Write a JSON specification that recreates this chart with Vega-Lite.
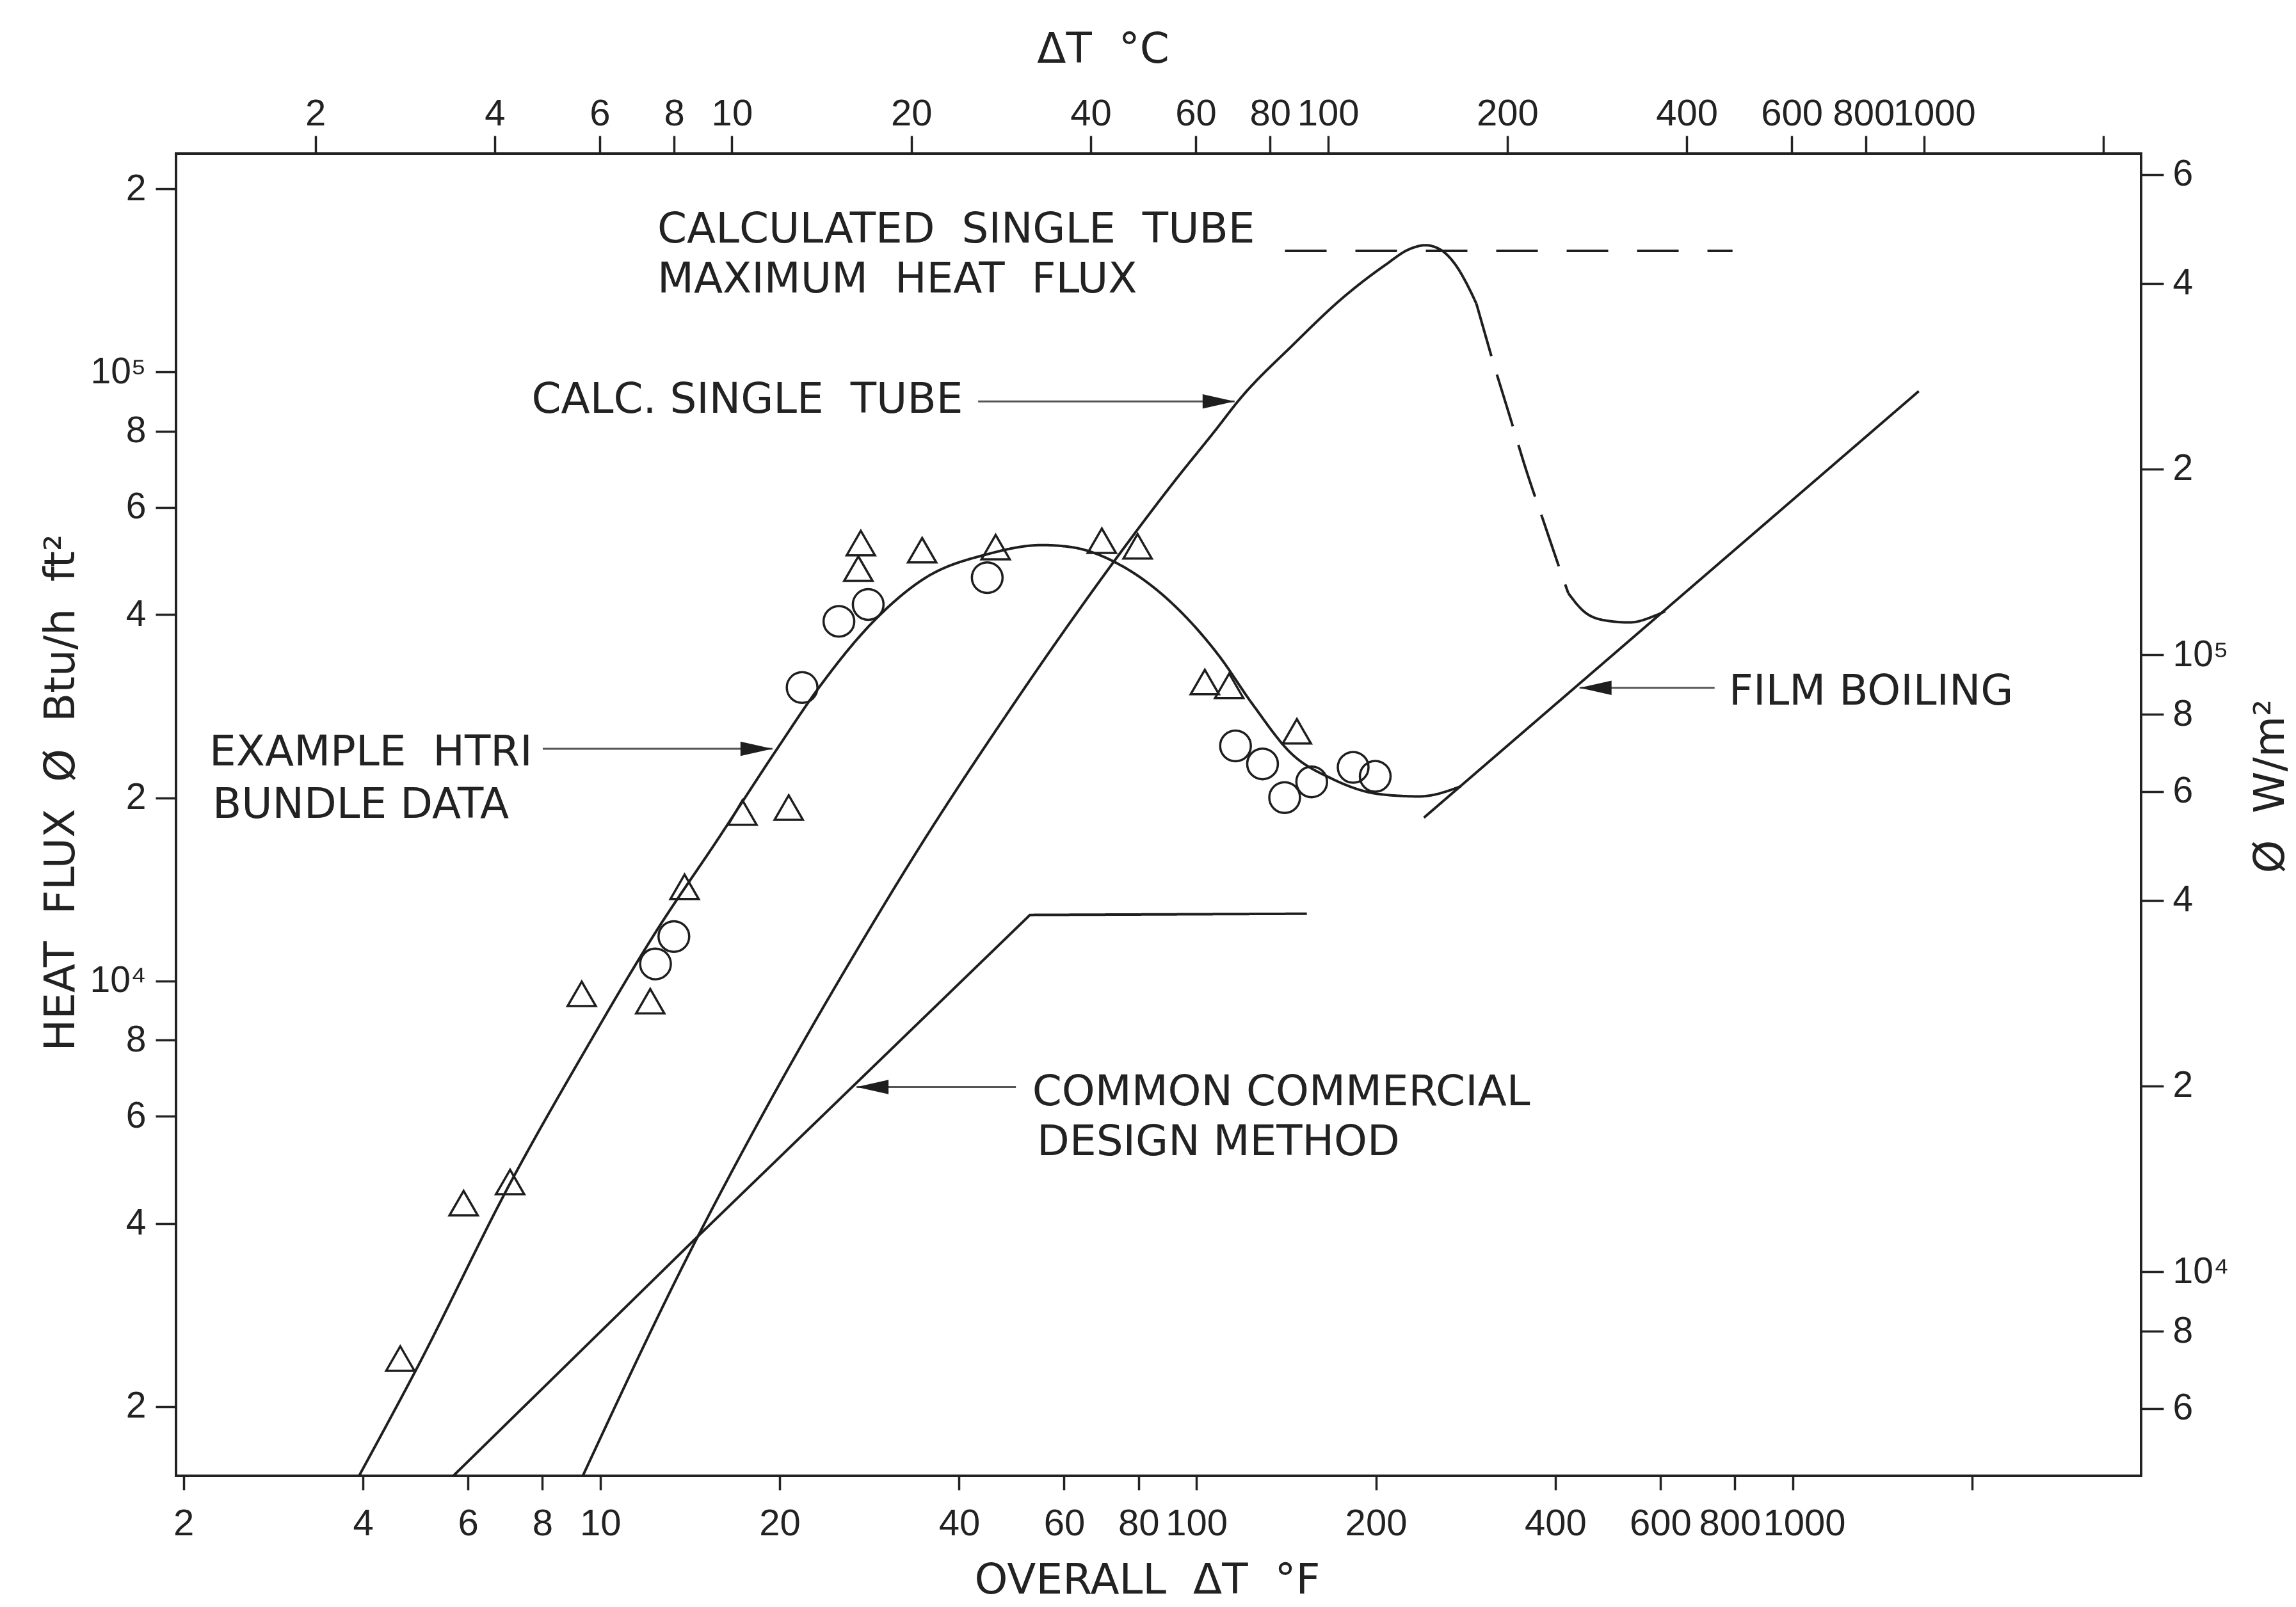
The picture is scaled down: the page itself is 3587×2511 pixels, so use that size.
{
  "$schema": "https://vega.github.io/schema/vega-lite/v6.json",
  "width": 3070,
  "height": 2066,
  "autosize": {"type": "none"},
  "padding": {"left": 275, "top": 240, "right": 242, "bottom": 205},
  "background": "white",
  "config": {
    "view": {"stroke": "#222", "strokeWidth": 4},
    "axis": {
      "domain": false, "grid": false, "tickColor": "#222", "tickWidth": 3.5,
      "labelColor": "#222", "titleColor": "#222", "labelOverlap": false, "labelFlush": false, "labelBound": false,
      "titleFont": "DejaVu Sans", "titleFontSize": 66, "titleFontWeight": "normal",
      "titleAlign": "center", "titleBaseline": "middle"
    }
  },
  "datasets": {
    "curves": [
      {"s": "htri", "style": "solid", "i": 0, "dT": 3.94, "q": 1540},
      {"s": "htri", "style": "solid", "i": 1, "dT": 4.92, "q": 2308},
      {"s": "htri", "style": "solid", "i": 2, "dT": 7.08, "q": 4677},
      {"s": "htri", "style": "solid", "i": 3, "dT": 9.385, "q": 7627},
      {"s": "htri", "style": "solid", "i": 4, "dT": 12.44, "q": 12110},
      {"s": "htri", "style": "solid", "i": 5, "dT": 15.69, "q": 17000},
      {"s": "htri", "style": "solid", "i": 6, "dT": 19.84, "q": 24130},
      {"s": "htri", "style": "solid", "i": 7, "dT": 23.08, "q": 30000},
      {"s": "htri", "style": "solid", "i": 8, "dT": 28.97, "q": 39290},
      {"s": "htri", "style": "solid", "i": 9, "dT": 34.96, "q": 45820},
      {"s": "htri", "style": "solid", "i": 10, "dT": 44.77, "q": 50280},
      {"s": "htri", "style": "solid", "i": 11, "dT": 55.1, "q": 52000},
      {"s": "htri", "style": "solid", "i": 12, "dT": 61.74, "q": 51590},
      {"s": "htri", "style": "solid", "i": 13, "dT": 74.59, "q": 48200},
      {"s": "htri", "style": "solid", "i": 14, "dT": 90.12, "q": 42100},
      {"s": "htri", "style": "solid", "i": 15, "dT": 108.9, "q": 34300},
      {"s": "htri", "style": "solid", "i": 16, "dT": 124.3, "q": 28460},
      {"s": "htri", "style": "solid", "i": 17, "dT": 144.5, "q": 23610},
      {"s": "htri", "style": "solid", "i": 18, "dT": 168.5, "q": 21510},
      {"s": "htri", "style": "solid", "i": 19, "dT": 203.3, "q": 20270},
      {"s": "htri", "style": "solid", "i": 20, "dT": 236.4, "q": 20100},
      {"s": "htri", "style": "solid", "i": 21, "dT": 277.9, "q": 20890},
      {"s": "tube1", "style": "solid", "i": 0, "dT": 9.35, "q": 1540},
      {"s": "tube1", "style": "solid", "i": 1, "dT": 13.96, "q": 3502},
      {"s": "tube1", "style": "solid", "i": 2, "dT": 19.12, "q": 6265},
      {"s": "tube1", "style": "solid", "i": 3, "dT": 27.51, "q": 11630},
      {"s": "tube1", "style": "solid", "i": 4, "dT": 34.96, "q": 17070},
      {"s": "tube1", "style": "solid", "i": 5, "dT": 40.15, "q": 21060},
      {"s": "tube1", "style": "solid", "i": 6, "dT": 46.46, "q": 26100},
      {"s": "tube1", "style": "solid", "i": 7, "dT": 58.32, "q": 36130},
      {"s": "tube1", "style": "solid", "i": 8, "dT": 71.78, "q": 48020},
      {"s": "tube1", "style": "solid", "i": 9, "dT": 91.86, "q": 66180},
      {"s": "tube1", "style": "solid", "i": 10, "dT": 107.9, "q": 80540},
      {"s": "tube1", "style": "solid", "i": 11, "dT": 117.9, "q": 90000},
      {"s": "tube1", "style": "solid", "i": 12, "dT": 145.1, "q": 110800},
      {"s": "tube1", "style": "solid", "i": 13, "dT": 176.7, "q": 132900},
      {"s": "tube1", "style": "solid", "i": 14, "dT": 206.9, "q": 149700},
      {"s": "tube1", "style": "solid", "i": 15, "dT": 228.3, "q": 159400},
      {"s": "tube1", "style": "solid", "i": 16, "dT": 242.2, "q": 161600},
      {"s": "tube1", "style": "solid", "i": 17, "dT": 256.9, "q": 158800},
      {"s": "tube1", "style": "solid", "i": 18, "dT": 272.5, "q": 149700},
      {"s": "tube1", "style": "solid", "i": 19, "dT": 286.4, "q": 137500},
      {"s": "tube1", "style": "solid", "i": 20, "dT": 294.9, "q": 129500},
      {"s": "tube2", "style": "dashed", "i": 0, "dT": 294.9, "q": 129500},
      {"s": "tube2", "style": "dashed", "i": 1, "dT": 312.9, "q": 105700},
      {"s": "tube2", "style": "dashed", "i": 2, "dT": 335.3, "q": 84750},
      {"s": "tube2", "style": "dashed", "i": 3, "dT": 359.2, "q": 67980},
      {"s": "tube2", "style": "dashed", "i": 4, "dT": 381.1, "q": 57360},
      {"s": "tube2", "style": "dashed", "i": 5, "dT": 404.2, "q": 48390},
      {"s": "tube2", "style": "dashed", "i": 6, "dT": 420.5, "q": 43350},
      {"s": "tube3", "style": "solid", "i": 0, "dT": 420.5, "q": 43350},
      {"s": "tube3", "style": "solid", "i": 1, "dT": 446.1, "q": 40500},
      {"s": "tube3", "style": "solid", "i": 2, "dT": 482.7, "q": 39140},
      {"s": "tube3", "style": "solid", "i": 3, "dT": 532.6, "q": 38810},
      {"s": "tube3", "style": "solid", "i": 4, "dT": 587.9, "q": 39820},
      {"s": "tube3", "style": "solid", "i": 5, "dT": 611.5, "q": 40500},
      {"s": "commercial", "style": "solid", "i": 0, "dT": 5.67, "q": 1540},
      {"s": "commercial", "style": "solid", "i": 1, "dT": 14.43, "q": 3771},
      {"s": "commercial", "style": "solid", "i": 2, "dT": 52.58, "q": 12840},
      {"s": "commercial", "style": "solid", "i": 3, "dT": 153.2, "q": 12900},
      {"s": "film", "style": "solid", "i": 0, "dT": 240.8, "q": 18550},
      {"s": "film", "style": "solid", "i": 1, "dT": 1628, "q": 93050},
      {"s": "maxflux", "style": "longdash", "i": 0, "dT": 140.8, "q": 158200},
      {"s": "maxflux", "style": "longdash", "i": 1, "dT": 793, "q": 158200}
    ],
    "points": [
      {"kind": "triangle", "dT": 4.62, "q": 2399},
      {"kind": "triangle", "dT": 5.9, "q": 4318},
      {"kind": "triangle", "dT": 7.06, "q": 4677},
      {"kind": "triangle", "dT": 9.31, "q": 9528},
      {"kind": "triangle", "dT": 12.13, "q": 9267},
      {"kind": "triangle", "dT": 13.85, "q": 14283},
      {"kind": "triangle", "dT": 17.32, "q": 18918},
      {"kind": "triangle", "dT": 20.71, "q": 19275},
      {"kind": "triangle", "dT": 27.36, "q": 52400},
      {"kind": "triangle", "dT": 27.1, "q": 47570},
      {"kind": "triangle", "dT": 34.67, "q": 51000},
      {"kind": "triangle", "dT": 46.05, "q": 51600},
      {"kind": "triangle", "dT": 69.4, "q": 52850},
      {"kind": "triangle", "dT": 79.68, "q": 51770},
      {"kind": "triangle", "dT": 103.3, "q": 30980},
      {"kind": "triangle", "dT": 113.5, "q": 30540},
      {"kind": "triangle", "dT": 147.4, "q": 25710},
      {"kind": "circle", "dT": 12.38, "q": 10670},
      {"kind": "circle", "dT": 13.29, "q": 11834},
      {"kind": "circle", "dT": 21.81, "q": 30340},
      {"kind": "circle", "dT": 25.14, "q": 38970},
      {"kind": "circle", "dT": 28.15, "q": 41530},
      {"kind": "circle", "dT": 44.58, "q": 45970},
      {"kind": "circle", "dT": 116.3, "q": 24330},
      {"kind": "circle", "dT": 129.1, "q": 22730},
      {"kind": "circle", "dT": 140.6, "q": 20010},
      {"kind": "circle", "dT": 156.1, "q": 21240},
      {"kind": "circle", "dT": 183.2, "q": 22440},
      {"kind": "circle", "dT": 199.5, "q": 21690}
    ],
    "labels": [
      {"label": "CALCULATED\u00a0 SINGLE\u00a0 TUBE", "dT": 12.47, "q": 171400},
      {"label": "MAXIMUM\u00a0 HEAT\u00a0 FLUX", "dT": 12.47, "q": 141800},
      {"label": "CALC. SINGLE\u00a0 TUBE", "dT": 7.67, "q": 90110},
      {"label": "EXAMPLE\u00a0 HTRI", "dT": 2.21, "q": 23730},
      {"label": "BUNDLE DATA", "dT": 2.237, "q": 19450},
      {"label": "COMMON COMMERCIAL", "dT": 53.05, "q": 6570},
      {"label": "DESIGN METHOD", "dT": 54.03, "q": 5438},
      {"label": "FILM BOILING", "dT": 782, "q": 29850}
    ],
    "arrows": [
      {"dT": 43.04, "dT2": 115.9, "q": 89500, "dir": "right"},
      {"dT": 8.01, "dT2": 19.45, "q": 24070, "dir": "right"},
      {"dT": 49.8, "dT2": 26.91, "q": 6700, "dir": "left"},
      {"dT": 740, "dT2": 439.2, "q": 30300, "dir": "left"}
    ],
    "scale2": [
      {"dTC": 1.168, "qW": 4668},
      {"dTC": 2314, "qW": 649000}
    ]
  },
  "layer": [
    {
      "encoding": {
        "x": {
          "field": "dT", "type": "quantitative",
          "scale": {"type": "log", "domain": [1.943, 3842], "nice": false, "zero": false},
          "axis": {
            "orient": "bottom", "title": "OVERALL\u00a0 ΔT\u00a0 °F",
            "values": [2, 4, 6, 8, 10, 20, 40, 60, 80, 100, 200, 400, 600, 800, 1000, 2000],
            "labelExpr": "datum.value >= 2000 ? '' : format(datum.value, 'd')",
            "labelOffset": {"condition": [{"test": "datum.value == 800", "value": -8}, {"test": "datum.value == 1000", "value": 18}], "value": 0},
            "tickSize": 22, "labelPadding": 24,
            "labelFont": "Liberation Sans, sans-serif", "labelFontSize": 58,
            "titleX": 1517, "titleY": 163, "titleAngle": 0
          }
        },
        "y": {
          "field": "q", "type": "quantitative",
          "scale": {"type": "log", "domain": [1540, 228500], "nice": false, "zero": false},
          "axis": {
            "orient": "left", "title": "HEAT\u00a0 FLUX\u00a0 Ø\u00a0 Btu/h\u00a0 ft²",
            "values": [2000, 4000, 6000, 8000, 10000, 20000, 40000, 60000, 80000, 100000, 200000],
            "labelExpr": "datum.value == 10000 ? '10⁴' : datum.value == 100000 ? '10⁵' : format(datum.value / pow(10, floor(log(datum.value) / LN10 + 1e-9)), '.0f')",
            "tickSize": 32, "labelPadding": 15,
            "labelFont": "Liberation Sans, DejaVu Sans, sans-serif", "labelFontSize": 57,
            "titleX": -180, "titleY": 998, "titleAngle": 270
          }
        }
      },
      "layer": [
        {
          "data": {"name": "curves"},
          "transform": [{"filter": {"field": "s", "oneOf": ["htri", "tube1", "tube2", "tube3"]}}],
          "mark": {"type": "line", "color": "#1e1e1e", "strokeWidth": 4, "interpolate": "monotone"},
          "encoding": {
            "detail": {"field": "s", "type": "nominal"},
            "order": {"field": "i", "type": "quantitative"},
            "strokeDash": {
              "field": "style", "type": "nominal", "legend": null,
              "scale": {"domain": ["solid", "dashed", "longdash"], "range": [[1, 0], [85, 30], [65, 45]]}
            }
          }
        },
        {
          "data": {"name": "curves"},
          "transform": [{"filter": {"field": "s", "oneOf": ["commercial", "film", "maxflux"]}}],
          "mark": {"type": "line", "color": "#1e1e1e", "strokeWidth": 4},
          "encoding": {
            "detail": {"field": "s", "type": "nominal"},
            "order": {"field": "i", "type": "quantitative"},
            "strokeDash": {
              "field": "style", "type": "nominal", "legend": null,
              "scale": {"domain": ["solid", "dashed", "longdash"], "range": [[1, 0], [85, 30], [65, 45]]}
            }
          }
        },
        {
          "data": {"name": "points"},
          "mark": {"type": "point", "filled": false, "color": "#1e1e1e", "strokeWidth": 3.5, "opacity": 1},
          "encoding": {
            "shape": {
              "field": "kind", "type": "nominal", "legend": null,
              "scale": {"domain": ["triangle", "circle"], "range": ["triangle-up", "circle"]}
            },
            "size": {
              "field": "kind", "type": "nominal", "legend": null,
              "scale": {"domain": ["triangle", "circle"], "range": [1950, 2300]}
            }
          }
        },
        {
          "data": {"name": "arrows"},
          "mark": {"type": "rule", "color": "#555", "strokeWidth": 3},
          "encoding": {
            "x2": {"field": "dT2"}
          }
        },
        {
          "data": {"name": "arrows"},
          "transform": [{"filter": "datum.dir == 'right'"}],
          "mark": {"type": "point", "shape": "M0,0L-2,-0.45L-2,0.45Z", "filled": true, "color": "#1e1e1e", "size": 2500, "opacity": 1},
          "encoding": {
            "x": {"field": "dT2", "type": "quantitative"}
          }
        },
        {
          "data": {"name": "arrows"},
          "transform": [{"filter": "datum.dir == 'left'"}],
          "mark": {"type": "point", "shape": "M0,0L2,-0.45L2,0.45Z", "filled": true, "color": "#1e1e1e", "size": 2500, "opacity": 1},
          "encoding": {
            "x": {"field": "dT2", "type": "quantitative"}
          }
        },
        {
          "data": {"name": "labels"},
          "mark": {"type": "text", "align": "left", "baseline": "middle", "font": "DejaVu Sans", "fontSize": 66, "color": "#222"},
          "encoding": {
            "text": {"field": "label", "type": "nominal"}
          }
        }
      ]
    },
    {
      "data": {"name": "scale2"},
      "mark": {"type": "point", "opacity": 0},
      "encoding": {
        "x": {
          "field": "dTC", "type": "quantitative",
          "scale": {"type": "log", "domain": [1.168, 2314], "nice": false, "zero": false},
          "axis": {
            "orient": "top", "title": "ΔT\u00a0 °C",
            "values": [2, 4, 6, 8, 10, 20, 40, 60, 80, 100, 200, 400, 600, 800, 1000, 2000],
            "labelExpr": "datum.value >= 2000 ? '' : format(datum.value, 'd')",
            "labelOffset": {"condition": [{"test": "datum.value == 800", "value": -4}, {"test": "datum.value == 1000", "value": 16}], "value": 0},
            "tickSize": 28, "labelPadding": 5,
            "labelFont": "Liberation Sans, sans-serif", "labelFontSize": 58,
            "titleX": 1448, "titleY": -163, "titleAngle": 0
          }
        },
        "y": {
          "field": "qW", "type": "quantitative",
          "scale": {"type": "log", "domain": [4668, 649000], "nice": false, "zero": false},
          "axis": {
            "orient": "right", "title": "Ø\u00a0 W/m²",
            "values": [6000, 8000, 10000, 20000, 40000, 60000, 80000, 100000, 200000, 400000, 600000],
            "labelExpr": "datum.value == 10000 ? '10⁴' : datum.value == 100000 ? '10⁵' : format(datum.value / pow(10, floor(log(datum.value) / LN10 + 1e-9)), '.0f')",
            "tickSize": 35, "labelPadding": 14,
            "labelFont": "Liberation Sans, DejaVu Sans, sans-serif", "labelFontSize": 57,
            "titleX": 202, "titleY": 988, "titleAngle": 270
          }
        }
      }
    }
  ],
  "resolve": {
    "scale": {"x": "independent", "y": "independent"},
    "axis": {"x": "independent", "y": "independent"}
  }
}
